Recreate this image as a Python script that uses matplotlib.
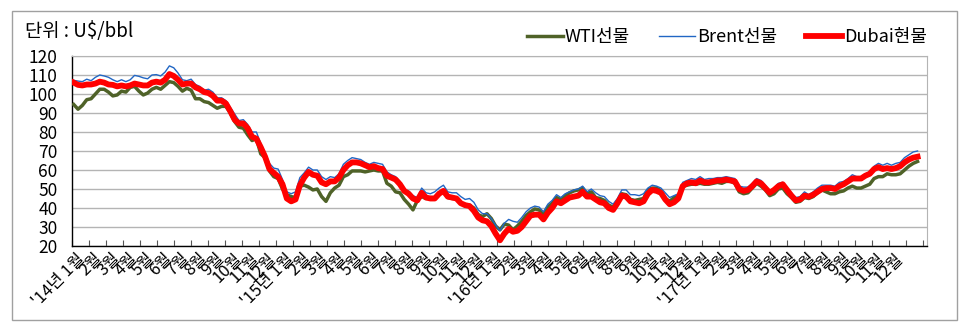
"""국제유가 추이 (WTI선물 / Brent선물 / Dubai현물), '14년 1월 ~ '18년 1월 주간값."""
import matplotlib
matplotlib.use("Agg")
import matplotlib.pyplot as plt
import numpy as np
from matplotlib.patches import Rectangle

plt.rcParams["font.family"] = ["Noto Sans CJK KR", "DejaVu Sans"]

# weekly values (4 per month), Jan 2014 .. mid Jan 2018
BRENT = [
    107.2, 106.8, 106.5, 107.8, 107.0, 108.8, 110.0, 109.5, 108.8, 107.5, 106.5, 107.5,
    106.5, 107.5, 109.8, 109.3, 108.5, 108.0, 110.0, 110.2, 109.5, 111.5, 114.8, 113.8,
    111.0, 107.5, 107.0, 107.8, 105.0, 104.0, 102.0, 102.5, 101.0, 98.0, 98.0, 96.5,
    93.0, 89.5, 86.0, 86.5, 84.0, 80.0, 80.0, 74.0, 69.0, 63.5, 61.0, 60.5,
    # 2015
    55.0, 48.5, 47.5, 48.5, 56.0, 58.5, 61.5, 60.0, 60.0, 56.5, 55.0, 56.5,
    56.0, 58.0, 63.0, 65.0, 66.5, 66.0, 65.5, 64.0, 63.0, 64.0, 63.5, 63.0,
    59.0, 57.5, 56.5, 54.0, 49.5, 49.0, 46.5, 45.5, 50.5, 48.0, 47.5, 48.5,
    50.5, 52.0, 48.5, 48.0, 48.0, 46.0, 44.5, 45.0, 43.0, 39.0, 37.0, 37.0,
    # 2016
    34.5, 31.0, 28.0, 32.0, 34.0, 33.0, 32.5, 35.0, 38.0, 40.0, 41.0, 40.5,
    38.0, 42.0, 44.0, 47.0, 45.5, 47.5, 48.5, 49.5, 50.0, 51.5, 48.5, 50.0,
    48.0, 46.5, 46.0, 43.5, 42.0, 45.0, 49.5, 49.5, 47.0, 47.0, 46.5, 47.5,
    50.5, 52.0, 51.5, 50.5, 48.0, 45.5, 46.5, 47.5, 53.5, 54.5, 55.5, 55.0,
    # 2017
    56.5, 55.0, 55.5, 55.5, 56.0, 56.0, 56.5, 56.0, 55.5, 51.5, 51.0, 51.0,
    53.0, 55.5, 54.5, 52.0, 49.0, 50.5, 53.0, 53.5, 50.5, 48.0, 45.5, 46.0,
    48.5, 47.0, 48.5, 50.5, 52.0, 52.0, 52.0, 51.5, 53.5, 54.0, 55.5, 57.5,
    56.5, 56.5, 58.0, 59.0, 62.0, 63.5, 62.5, 63.5, 62.5, 63.5, 64.0, 66.5,
    # 2018
    68.0, 69.5, 70.0,
]

DUBAI = [
    106.0, 104.8, 104.5, 105.0, 105.0, 105.5, 106.5, 106.0, 105.0, 104.8, 104.0, 104.5,
    104.0, 104.5, 105.5, 105.0, 104.5, 104.5, 106.0, 106.5, 106.0, 107.5, 110.5, 109.5,
    107.5, 105.0, 105.5, 105.5, 103.5, 102.5, 101.0, 100.5, 99.0, 96.5, 96.5, 95.0,
    91.0, 86.5, 84.5, 84.5, 82.0, 77.5, 76.5, 72.0, 67.0, 60.5, 58.5, 56.5,
    # 2015
    52.5, 45.0, 43.5, 44.5, 52.0, 56.0, 59.0, 57.5, 57.0, 53.5, 52.5, 54.0,
    54.0, 56.0, 60.0, 62.5, 64.0, 64.0, 63.5, 62.5, 61.5, 62.0, 61.0, 60.5,
    57.0, 56.0, 55.0, 52.5, 49.0, 47.5, 45.0, 44.0, 48.0, 45.5, 45.0, 45.0,
    47.5, 49.0, 46.0, 45.5, 45.0, 42.5, 41.5, 41.0, 38.5, 35.0, 33.5, 33.0,
    # 2016
    30.5, 26.5, 23.0, 26.5, 29.0, 27.5, 28.0, 30.0, 33.0, 36.0, 36.5, 36.5,
    34.0, 37.5, 40.0, 43.5, 42.5, 44.0, 45.5, 46.0, 46.5, 48.5, 46.0, 46.0,
    44.5, 43.0, 42.5, 40.0, 39.0, 42.5, 46.5, 46.0, 43.5, 43.0, 42.5, 43.5,
    47.5, 49.5, 49.0, 48.0, 44.5, 42.0, 43.0, 45.0, 51.5, 53.0, 53.5, 53.0,
    # 2017
    54.5, 53.5, 53.5, 54.0, 54.5, 54.5, 55.0, 54.5, 54.0, 50.0, 49.0, 49.5,
    51.5, 54.0, 53.0, 50.5, 48.0, 49.5, 51.5, 52.5, 49.5, 46.5, 44.0, 44.5,
    46.5, 46.0, 47.0, 48.5, 50.0, 50.5, 50.5, 50.0, 51.5, 52.5, 54.0, 55.5,
    55.5, 55.5, 57.0, 58.0, 60.5, 61.5, 60.5, 61.0, 60.5, 61.0, 62.0, 64.0,
    # 2018
    65.5, 66.5, 67.0,
]

WTI = [
    94.5, 92.0, 94.0, 97.0, 97.5, 100.0, 102.5, 102.5, 101.0, 99.0, 99.5, 101.5,
    101.0, 103.5, 104.0, 101.5, 99.5, 100.5, 102.5, 103.5, 102.5, 104.5, 106.5, 106.0,
    104.0, 101.5, 103.0, 102.0, 97.5, 97.5, 96.0, 95.5, 94.0, 92.5, 93.5, 93.5,
    90.0, 85.5, 82.5, 82.0, 78.5, 75.5, 76.5, 68.5, 66.5, 59.5, 56.5, 55.5,
    # 2015
    50.0, 47.0, 46.0, 45.5, 51.5, 52.0, 51.0, 49.5, 50.0, 46.0, 43.5, 48.0,
    50.5, 52.0, 56.5, 57.5, 59.5, 59.5, 59.5, 59.0, 59.5, 60.0, 59.5, 59.5,
    53.0, 51.5, 48.5, 48.0, 44.5, 42.0, 39.0, 44.0, 46.0, 45.0, 45.5, 45.5,
    48.0, 48.5, 45.5, 45.0, 45.0, 42.5, 41.0, 41.5, 40.0, 36.5, 35.5, 37.0,
    # 2016
    34.5, 30.5, 28.5, 31.5, 31.0, 28.5, 30.5, 33.0, 36.0, 38.0, 39.5, 39.0,
    36.5, 40.5, 42.5, 45.5, 44.5, 46.5, 48.0, 49.0, 49.5, 50.5, 47.5, 48.5,
    45.5, 45.0, 44.0, 41.5, 40.5, 43.5, 47.5, 47.0, 44.5, 44.0, 44.5, 45.0,
    49.5, 50.5, 50.5, 49.0, 45.0, 43.5, 45.5, 46.5, 51.5, 52.0, 52.5, 52.5,
    # 2017
    53.0, 52.5, 52.5, 53.0, 53.5, 53.0, 54.0, 54.0, 53.0, 48.5, 47.5, 48.0,
    50.5, 53.0, 51.5, 49.5, 46.5, 47.5, 50.0, 50.5, 47.5, 45.5, 43.0, 43.5,
    45.5, 45.0, 46.0, 48.0, 49.5, 48.5, 47.5, 47.5, 48.5, 49.0, 50.5, 51.5,
    50.5, 50.5, 51.5, 52.5, 55.5, 56.5, 56.5, 58.0, 57.5, 57.5, 58.0, 60.0,
    # 2018
    62.0, 63.5, 64.5,
]

YEARS = ["'14년", "'15년", "'16년", "'17년"]
MONTHS = [f"{m}월" for m in range(1, 13)]

COLOR_WTI = "#4F6228"
COLOR_BRENT = "#2166C4"
COLOR_DUBAI = "#FF0000"


def main():
    fig = plt.figure(figsize=(9.7, 3.34), dpi=100)
    ax = fig.add_axes([71.5 / 970, 1 - 246 / 334, (927 - 71.5) / 970, (246 - 56) / 334])

    # outer frame around the whole chart
    fig.patches.append(Rectangle((12 / 970, 1 - 320 / 334), 945 / 970, 309 / 334,
                                 transform=fig.transFigure, fill=False,
                                 edgecolor="#a0a0a0", linewidth=1.0))

    x = (np.arange(len(BRENT)) + 0.5) / 4.0  # months since Jan 2014
    ax.plot(x, WTI, color=COLOR_WTI, linewidth=2.5, label="WTI선물", zorder=3)
    ax.plot(x, BRENT, color=COLOR_BRENT, linewidth=1.0, label="Brent선물", zorder=4)
    ax.plot(x, DUBAI, color=COLOR_DUBAI, linewidth=4.2, label="Dubai현물", zorder=5)

    ax.set_xlim(0, (927 - 71.5) / 17.4)
    ax.set_ylim(20, 120)
    ax.set_yticks(np.arange(20, 121, 10))
    ax.tick_params(axis="y", length=0, pad=10, labelsize=12.5)
    ax.grid(axis="y", color="#b4b4b4", linewidth=1.0)
    ax.set_axisbelow(True)

    labels = []
    for yr in YEARS:
        for i, m in enumerate(MONTHS):
            labels.append(f"{yr} {m}" if i == 0 else m)
    ax.set_xticks(np.arange(len(labels)) + 0.3)
    ax.set_xticklabels(labels, rotation=45, ha="right", va="top",
                       rotation_mode="anchor", fontsize=12)
    ax.tick_params(axis="x", which="major", length=0, pad=3)
    ax.set_xticks(np.arange(0, 49.2, 0.979), minor=True)
    ax.tick_params(axis="x", which="minor", direction="in", length=4,
                   width=0.8, color="#555555")

    for side in ("top", "right"):
        ax.spines[side].set_color("#b4b4b4")
    for side in ("left", "bottom"):
        ax.spines[side].set_color("black")
        ax.spines[side].set_linewidth(1.0)

    fig.text(25 / 970, 1 - 32 / 334, "단위 : U$/bbl", fontsize=13.5, va="center", ha="left")

    ax.legend(loc="center right", bbox_to_anchor=(927 / 970, 1 - 37 / 334),
              bbox_transform=fig.transFigure, ncol=3, frameon=False,
              fontsize=13, handlelength=2.0, handletextpad=0.1,
              columnspacing=1.6, borderpad=0, borderaxespad=0)

    fig.savefig("out.png", dpi=100)


if __name__ == "__main__":
    main()
